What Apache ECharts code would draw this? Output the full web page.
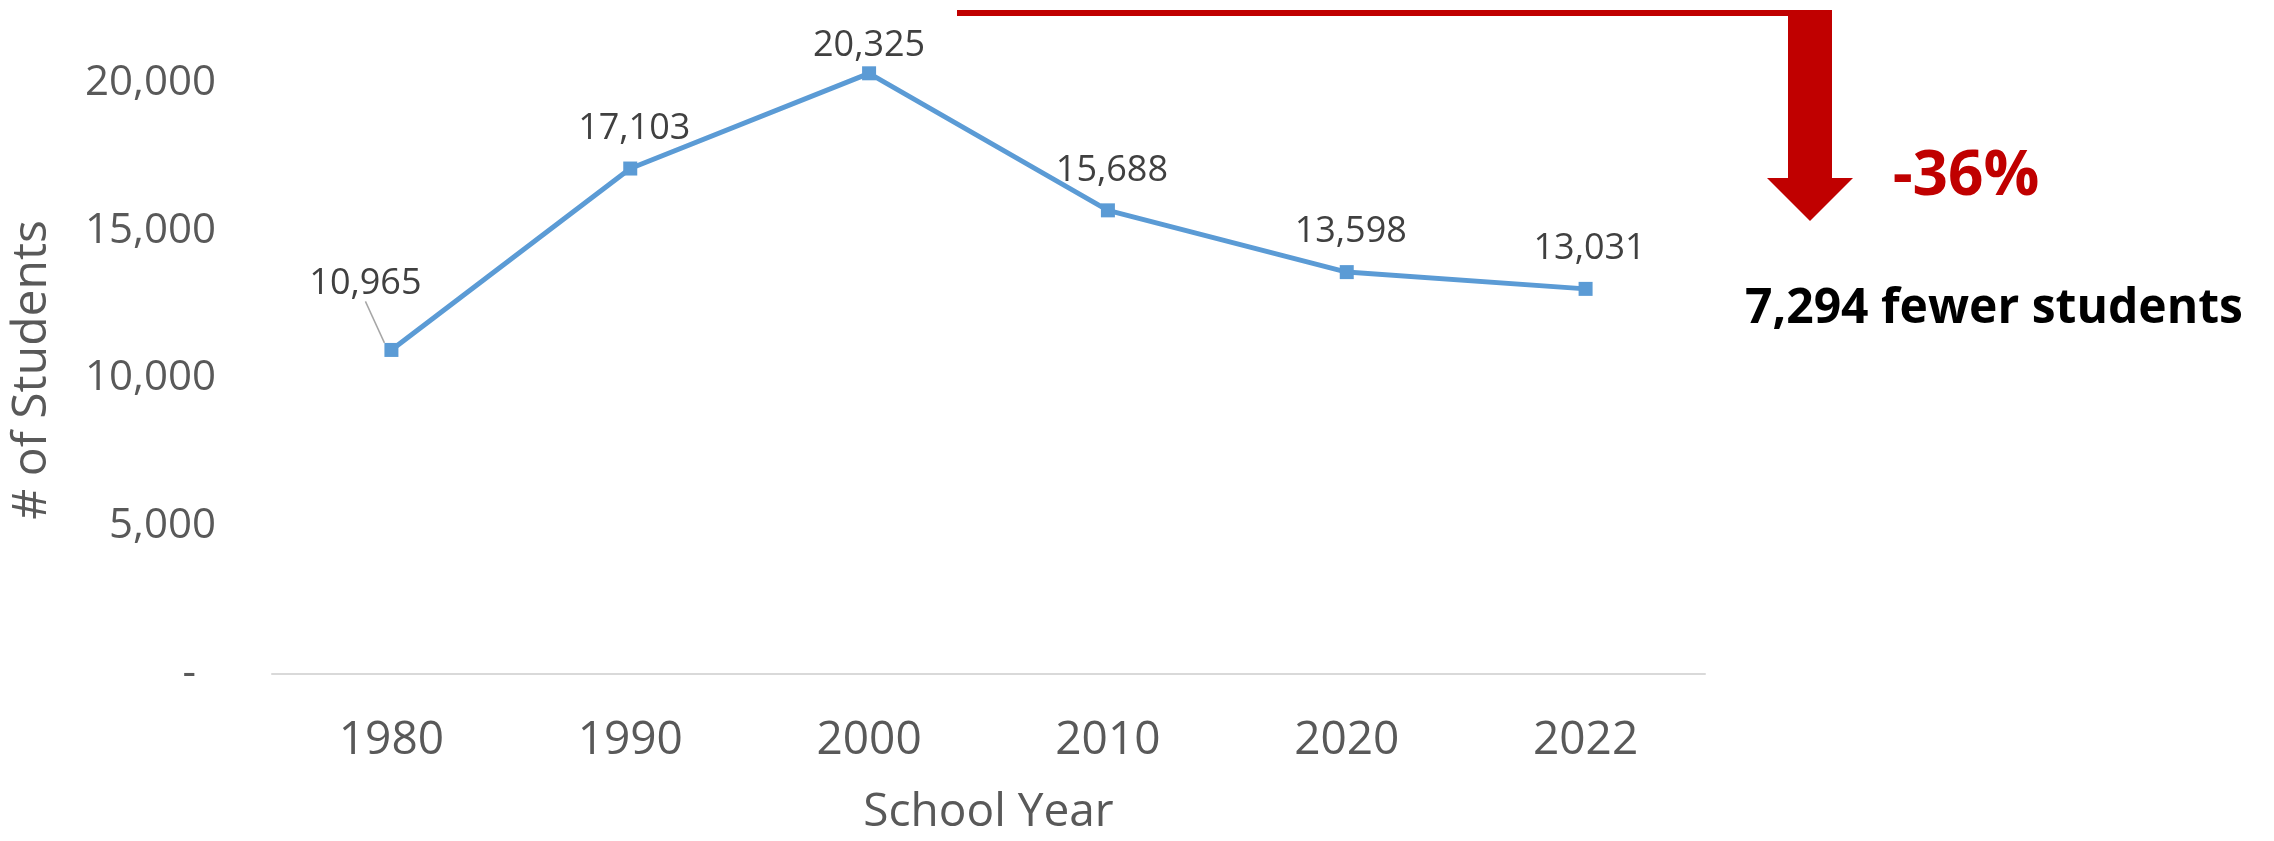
<!DOCTYPE html>
<html>
<head>
<meta charset="utf-8">
<script src="https://cdn.jsdelivr.net/npm/echarts@6/dist/echarts.min.js"></script>
<style>
html,body{margin:0;padding:0;background:#fff;}
#chart{width:2274px;height:841px;}
</style>
</head>
<body>
<div id="chart"></div>
<script>
const years = ['1980', '1990', '2000', '2010', '2020', '2022'];
const students = [10965, 17103, 20325, 15688, 13598, 13031];
const yTicks = [0, 5000, 10000, 15000, 20000];
const changePct = '-36%';
const changeText = '7,294 fewer students';

const FONT = '"Open Sans", "Noto Sans", sans-serif';
const fmt = v => Number(v).toLocaleString('en-US');

const chart = echarts.init(document.getElementById('chart'), null, {renderer: 'canvas'});

const seriesData = students.map((v, i) => i === 0
  ? {value: v, labelLine: {show: true, lineStyle: {color: '#A6A6A6', width: 1.5}}}
  : v);

const option = {
  backgroundColor: '#ffffff',
  animation: false,
  grid: {left: 271, width: 1434, top: 23.8, bottom: 164, containLabel: false},
  xAxis: {
    type: 'category',
    data: years,
    boundaryGap: true,
    name: 'School Year',
    nameLocation: 'middle',
    nameGap: 116,
    nameTextStyle: {fontFamily: FONT, fontSize: 46, color: '#595959'},
    axisLine: {show: true, lineStyle: {color: '#D9D9D9', width: 2}},
    axisTick: {show: false},
    axisLabel: {fontFamily: FONT, fontSize: 46, color: '#595959', margin: 44}
  },
  yAxis: {
    type: 'value',
    min: 0,
    max: 22000,
    interval: 5000,
    name: '# of Students',
    nameLocation: 'middle',
    nameGap: 216,
    nameTextStyle: {fontFamily: FONT, fontSize: 48, color: '#595959', padding: [0, 42, 0, 0]},
    splitLine: {show: false},
    axisLine: {show: false},
    axisTick: {show: false},
    axisLabel: {
      showMaxLabel: false,
      fontFamily: FONT, fontSize: 42, color: '#595959', margin: 56,
      formatter: v => yTicks.indexOf(v) < 0 ? '' : (v === 0 ? '{d|-}' : fmt(v)),
      rich: {d: {fontFamily: FONT, fontSize: 42, color: '#595959', padding: [0, 20, 0, 0]}}
    }
  },
  series: [{
    type: 'line',
    data: seriesData,
    symbol: 'rect',
    symbolSize: 14,
    lineStyle: {color: '#5B9BD5', width: 5},
    itemStyle: {color: '#5B9BD5'},
    label: {
      show: true,
      position: 'top',
      distance: 15,
      fontFamily: FONT,
      fontSize: 36,
      color: '#404040',
      formatter: p => fmt(p.value)
    },
    labelLayout: function (params) {
      if (params.dataIndex === 0) return {dx: -26, dy: -26.5};
      if (params.dataIndex === 2) return {dy: 12};
      return {dx: 4};
    }
  }],
  graphic: [
    {
      type: 'polygon',
      shape: {points: [[957, 10], [1832, 10], [1832, 178], [1853, 178], [1810, 221], [1767, 178], [1788, 178], [1788, 16], [957, 16]]},
      style: {fill: '#C00000'}
    },
    {
      type: 'text', x: 1966, y: 177,
      style: {text: changePct, fill: '#C00000', font: 'bold 62px ' + FONT, textAlign: 'center', textVerticalAlign: 'middle'}
    },
    {
      type: 'text', x: 1994, y: 309,
      style: {text: changeText, fill: '#000000', font: 'bold 48px ' + FONT, textAlign: 'center', textVerticalAlign: 'middle'}
    }
  ]
};
chart.setOption(option);
</script>
</body>
</html>
